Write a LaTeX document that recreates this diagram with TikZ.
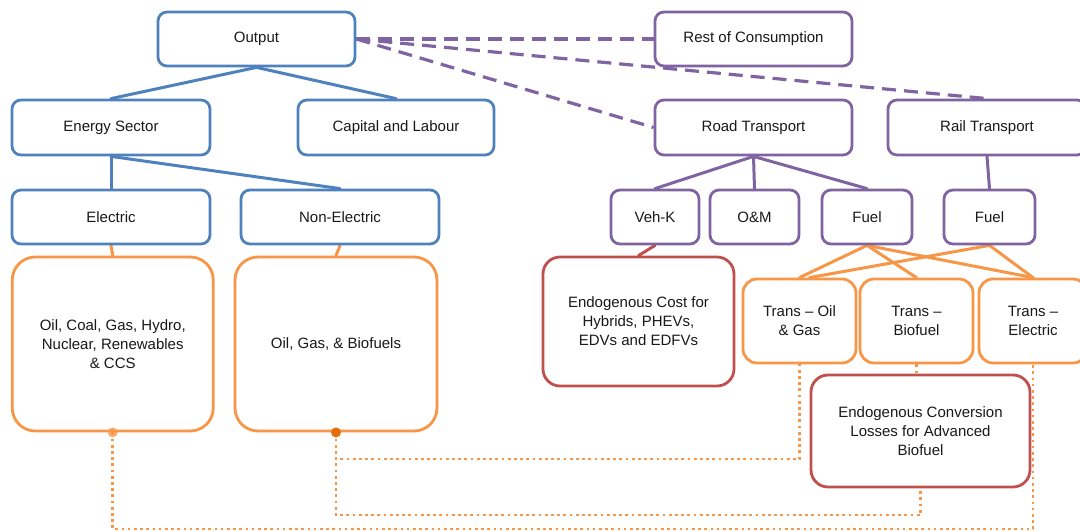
\documentclass[tikz,border=0pt]{standalone}
\usepackage{fontspec}
\setmainfont{Liberation Sans}
\usetikzlibrary{backgrounds}
\definecolor{boxBlue}{HTML}{4F81BD}
\definecolor{boxPurple}{HTML}{8064A2}
\definecolor{boxOrange}{HTML}{F79646}
\definecolor{boxRed}{HTML}{C0504D}
\definecolor{dotOrange}{HTML}{E46C0A}
\definecolor{textBlack}{gray}{0.1}

\begin{document}
\begin{tikzpicture}[x=1pt, y=-1pt,
    box/.style={draw, rounded corners=9pt, line width=2.8pt, fill=white, align=center, inner sep=0pt, text=textBlack, font=\fontsize{15}{19}\selectfont},
    blueBox/.style={box, draw=boxBlue},
    purpleBox/.style={box, draw=boxPurple},
    orangeBox/.style={box, draw=boxOrange},
    redBox/.style={box, draw=boxRed, rounded corners=17pt},
    link/.style={line width=3pt, line cap=round},
    dashLink/.style={line width=3.2pt, boxPurple, dash pattern=on 14pt off 8pt},
    dotLink/.style={line width=2.7pt, boxOrange, dash pattern=on 2.7pt off 3.5pt}]
    \useasboundingbox (0,0) rectangle (1080,532);
    \coordinate (innerLine) at (0,459);
    \coordinate (midLine) at (0,515);
    \coordinate (outerLine) at (0,529);

    % Top level
    \node[blueBox, minimum width=197pt, minimum height=54pt] (output) at (256.5,39) {Output};
    \node[purpleBox, minimum width=197pt, minimum height=54pt] (rest) at (753.5,39) {Rest of Consumption};

    % Second level
    \node[blueBox, minimum width=198pt, minimum height=55pt] (energy) at (111,127.5) {Energy Sector};
    \node[blueBox, minimum width=196pt, minimum height=55pt] (capital) at (396,127.5) {Capital and Labour};
    \node[purpleBox, minimum width=197pt, minimum height=55pt] (road) at (753.5,127.5) {Road Transport};
    \node[purpleBox, minimum width=198pt, minimum height=55pt] (rail) at (987,127.5) {Rail Transport};

    % Third level
    \node[blueBox, minimum width=198pt, minimum height=54pt] (electric) at (111,217) {Electric};
    \node[blueBox, minimum width=198pt, minimum height=54pt] (nonElec) at (340,217) {Non-Electric};
    \node[purpleBox, minimum width=88pt, minimum height=54pt] (vehK) at (655,217) {Veh-K};
    \node[purpleBox, minimum width=89pt, minimum height=54pt] (om) at (754.5,217) {O\&M};
    \node[purpleBox, minimum width=90pt, minimum height=54pt] (roadFuel) at (867,217) {Fuel};
    \node[purpleBox, minimum width=91pt, minimum height=54pt] (railFuel) at (989.5,217) {Fuel};

    % Fourth level
    \node[orangeBox, rounded corners=23pt, minimum width=201pt, minimum height=174pt] (elecMix) at (112.75,344) {Oil, Coal, Gas, Hydro,\\Nuclear, Renewables\\\& CCS};
    \node[orangeBox, rounded corners=23pt, minimum width=202pt, minimum height=174pt] (nonElecMix) at (336,344) {Oil, Gas, \& Biofuels};
    \node[redBox, minimum width=191pt, minimum height=129pt] (vehCost) at (638.5,321.5) {Endogenous Cost for\\Hybrids, PHEVs,\\EDVs and EDFVs};
    \node[orangeBox, rounded corners=14pt, minimum width=113pt, minimum height=84pt] (transOil) at (799.5,321) {Trans -- Oil\\\& Gas};
    \node[orangeBox, rounded corners=14pt, minimum width=113pt, minimum height=84pt] (transBio) at (916.5,321) {Trans --\\Biofuel};
    \node[orangeBox, rounded corners=14pt, minimum width=108pt, minimum height=84pt] (transElec) at (1033,321) {Trans --\\Electric};
    \node[redBox, minimum width=219pt, minimum height=112pt] (convLoss) at (920.5,431) {Endogenous Conversion\\Losses for Advanced\\Biofuel};

    \begin{scope}[on background layer]
        % Production tree
        \draw[link, boxBlue] (output.south) -- (energy.north);
        \draw[link, boxBlue] (output.south) -- (capital.north);
        \draw[link, boxBlue] (energy.south) -- (electric.north);
        \draw[link, boxBlue] (energy.south) -- (nonElec.north);
        \draw[link, boxOrange] (electric.south) -- (elecMix.north);
        \draw[link, boxOrange] (nonElec.south) -- (nonElecMix.north);

        % Consumption links
        \draw[dashLink] (output.east) -- (rest.west);
        \draw[dashLink] (output.east) -- (rail.north);
        \draw[dashLink] (output.east) -- (road.west);

        % Transport tree
        \draw[link, boxPurple] (road.south) -- (vehK.north);
        \draw[link, boxPurple] (road.south) -- (om.north);
        \draw[link, boxPurple] (road.south) -- (roadFuel.north);
        \draw[link, boxPurple] (rail.south) -- (railFuel.north);
        \draw[link, boxRed] (vehK.south) -- (vehCost.north);
        \draw[link, boxOrange] (roadFuel.south) -- (transOil.north);
        \draw[link, boxOrange] (roadFuel.south) -- (transBio.north);
        \draw[link, boxOrange] (roadFuel.south) -- (transElec.north);
        \draw[link, boxOrange] (railFuel.south) -- ([xshift=10pt]transOil.north);
        \draw[link, boxOrange] (railFuel.south) -- (transElec.north);

        % Fuel supply
        \draw[dotLink] (elecMix.south) |- (transElec.south |- outerLine) -- (transElec.south);
        \draw[dotLink] (nonElecMix.south) |- (transOil.south |- innerLine) -- (transOil.south);
        \draw[dotLink] (nonElecMix.south) |- (convLoss.south |- midLine) -- (convLoss.south);
        \draw[dotLink] (transBio.south) -- (transBio.south |- convLoss.north);
    \end{scope}

    \fill[boxOrange, opacity=0.75] (elecMix.south) circle (5pt);
    \fill[dotOrange] (nonElecMix.south) circle (5pt);
\end{tikzpicture}
\end{document}
